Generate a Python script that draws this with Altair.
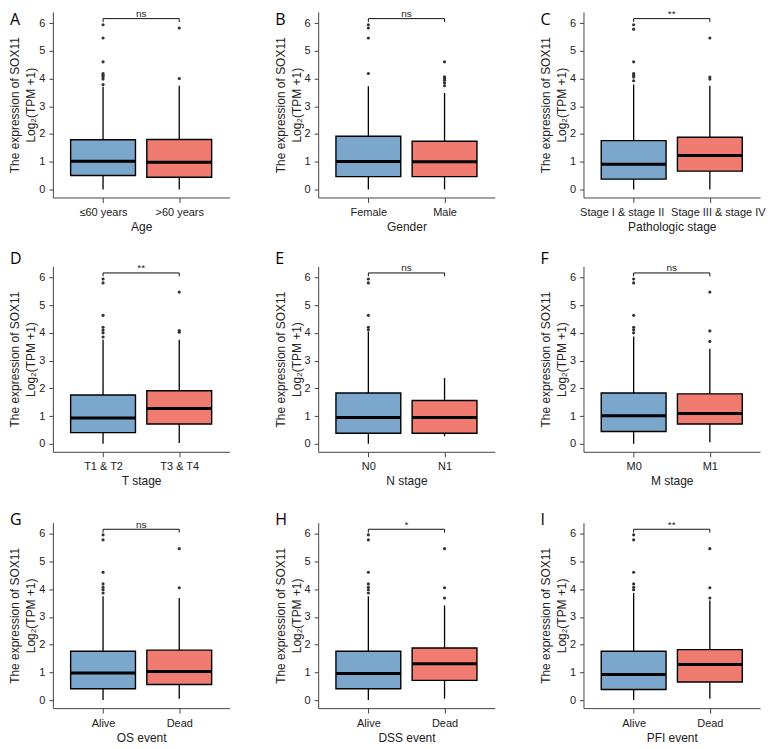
import altair as alt
import pandas as pd

PANELS = ["A", "B", "C", "D", "E", "F", "G", "H", "I"]
X_TITLES = ["Age", "Gender", "Pathologic stage", "T stage", "N stage", "M stage",
            "OS event", "DSS event", "PFI event"]
GROUP_1 = ["≤60 years", "Female", "Stage I & stage II", "T1 & T2", "N0", "M0",
           "Alive", "Alive", "Alive"]
GROUP_2 = [">60 years", "Male", "Stage III & stage IV", "T3 & T4", "N1", "M1",
           "Dead", "Dead", "Dead"]
SIGNIF = ["ns", "ns", "**", "**", "ns", "ns", "ns", "*", "**"]

# per panel: [group 1, group 2]
WHISKER_LOW = [[0, 0], [0, 0], [0, 0], [0, 0.03], [0, 0.27], [0, 0.05],
               [0, 0.05], [0, 0.05], [0, 0.05]]
Q1 = [[0.50, 0.44], [0.46, 0.46], [0.37, 0.66], [0.40, 0.71], [0.38, 0.38],
      [0.44, 0.71], [0.41, 0.56], [0.41, 0.71], [0.38, 0.65]]
MEDIAN = [[1.02, 0.98], [1.01, 1.00], [0.91, 1.22], [0.93, 1.27], [0.95, 0.95],
          [1.01, 1.09], [0.98, 1.03], [0.96, 1.31], [0.92, 1.28]]
Q3 = [[1.79, 1.80], [1.92, 1.74], [1.76, 1.88], [1.76, 1.91], [1.83, 1.56],
      [1.83, 1.80], [1.76, 1.80], [1.76, 1.88], [1.76, 1.82]]
WHISKER_HIGH = [[3.70, 3.74], [3.72, 3.48], [3.78, 3.74], [3.75, 3.75], [4.05, 2.37],
                [3.87, 3.43], [3.74, 3.68], [3.74, 3.41], [3.86, 3.59]]
OUTLIERS_1 = [
    [3.78, 3.98, 4.05, 4.12, 4.18, 4.60, 5.46, 5.94],
    [4.18, 5.46, 5.82, 5.94],
    [3.92, 4.05, 4.12, 4.18, 4.60, 5.78, 5.94],
    [3.85, 4.00, 4.10, 4.20, 4.63, 5.80, 5.94],
    [4.11, 4.20, 4.63, 5.80, 5.94],
    [4.00, 4.11, 4.20, 4.63, 5.80, 5.94],
    [3.86, 3.98, 4.07, 4.19, 4.61, 5.78, 5.96],
    [3.86, 3.98, 4.07, 4.19, 4.61, 5.78, 5.96],
    [3.98, 4.07, 4.19, 4.61, 5.78, 5.96],
]
OUTLIERS_2 = [
    [4.00, 5.82],
    [3.74, 3.84, 3.94, 4.01, 4.06, 4.60],
    [3.98, 4.05, 5.46],
    [4.02, 4.08, 5.47],
    [],
    [3.69, 4.07, 5.47],
    [4.05, 5.46],
    [3.68, 4.05, 5.46],
    [3.68, 4.05, 5.46],
]
BRACKET_TOP = 6.16
BRACKET_LEG = 6.04
Y_TICKS = [0, 1, 2, 3, 4, 5, 6]
GROUP_POS = [1, 2]

BLUE = "#7AA7CB"
RED = "#F07C71"
FONT = "Liberation Sans"
LETTER_Y = [13, 13, 13, -2, -2, -2, 2, 2, 2]


def panel(i):
    g1, g2 = GROUP_1[i], GROUP_2[i]
    boxes = pd.DataFrame({
        "pos": GROUP_POS,
        "grp": [g1, g2],
        "lo": WHISKER_LOW[i],
        "q1": Q1[i],
        "med": MEDIAN[i],
        "q3": Q3[i],
        "hi": WHISKER_HIGH[i],
    })
    o1, o2 = OUTLIERS_1[i], OUTLIERS_2[i]
    outl = pd.DataFrame({"pos": [1] * len(o1) + [2] * len(o2), "val": o1 + o2})
    br = pd.DataFrame({
        "x": [1, 1, 2], "x2": [2, 1, 2],
        "y": [BRACKET_TOP, BRACKET_LEG, BRACKET_LEG],
        "y2": [BRACKET_TOP, BRACKET_TOP, BRACKET_TOP],
    })
    sig = pd.DataFrame({"x": [sum(GROUP_POS) / 2], "y": [BRACKET_TOP], "t": [SIGNIF[i]]})
    let = pd.DataFrame({"t": [PANELS[i]]})

    xaxis_kw = dict(values=GROUP_POS,
                    labelExpr=f"datum.value == 1 ? '{g1}' : '{g2}'",
                    title=X_TITLES[i], grid=False, tickSize=5,
                    labelPadding=4, titlePadding=4, labelOverlap=False,
                    labelFlush=False)
    if i == 2:
        xaxis_kw["labelOffset"] = {"condition": {"test": "datum.value == 1", "value": -12},
                                   "value": 8}
    xscale = alt.Scale(domain=[0.407, 2.593], nice=False, zero=False)
    yscale = alt.Scale(domain=[-0.29, 6.4], nice=False, zero=False)
    xaxis = alt.Axis(**xaxis_kw)
    yaxis = alt.Axis(values=Y_TICKS, title=["The expression of SOX11", "Log₂(TPM +1)"],
                     grid=False, tickSize=4, labelPadding=4, titlePadding=1,
                     titleLineHeight=16, format="d")

    def X(f):
        return alt.X(f, type="quantitative", scale=xscale, axis=xaxis)

    def Y(f):
        return alt.Y(f, type="quantitative", scale=yscale, axis=yaxis)

    whisk = alt.Chart(boxes).mark_rule(color="black", strokeWidth=1.3).encode(
        x=X("pos"), y=Y("lo"), y2="hi")
    box = alt.Chart(boxes).mark_bar(size=65, stroke="black", strokeWidth=1.4).encode(
        x=X("pos"), y=Y("q1"), y2="q3",
        color=alt.Color("grp:N", scale=alt.Scale(domain=[g1, g2], range=[BLUE, RED]),
                        legend=None))
    med = alt.Chart(boxes).mark_tick(orient="horizontal", size=65, thickness=3,
                                     color="black", opacity=1).encode(
        x=X("pos"), y=Y("med"))
    pts = alt.Chart(outl).mark_circle(size=10, color="#333333", opacity=1).encode(
        x=X("pos"), y=Y("val"))
    brk = alt.Chart(br).mark_rule(color="#111111", strokeWidth=1).encode(
        x=X("x"), x2="x2", y=Y("y"), y2="y2")
    txt = alt.Chart(sig).mark_text(baseline="alphabetic", fontSize=10, dy=-1.5, font=FONT,
                                   color="#222222").encode(
        x=X("x"), y=Y("y"), text="t:N")
    letter = alt.Chart(let).mark_text(align="left", baseline="alphabetic", fontSize=16,
                                      font="Open Sans", color="black").encode(
        x=alt.value(-43), y=alt.value(LETTER_Y[i]), text="t:N")

    return alt.layer(whisk, box, med, pts, brk, txt, letter).properties(
        width=177, height=186)


rows = []
for r in range(3):
    rows.append(alt.hconcat(*[panel(3 * r + c) for c in range(3)], spacing=44))

chart = alt.vconcat(
    rows[0], alt.vconcat(rows[1], rows[2], spacing=25), spacing=19
).properties(padding=0).configure_view(
    stroke=None
).configure_axis(
    domainColor="#444444", tickColor="#444444", labelColor="#222222",
    titleColor="#222222", labelFont=FONT, titleFont=FONT, labelFontSize=11,
    titleFontSize=12, titleFontWeight="normal", domainWidth=1, tickWidth=1
)

chart.save("out.html", embed_options={"renderer": "svg", "actions": False})
